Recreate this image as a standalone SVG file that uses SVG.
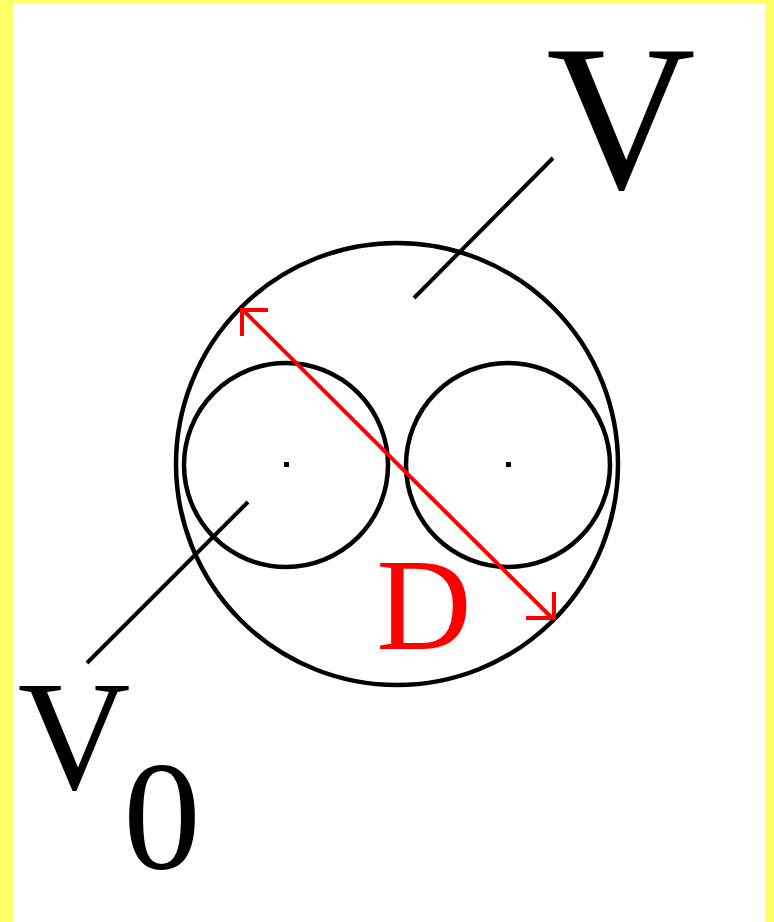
<svg xmlns="http://www.w3.org/2000/svg" width="774" height="922" viewBox="0 0 774 922">
  <defs>
    <style>
      .c { fill: none; stroke: #000; stroke-width: 4.5; }
      .ln { fill: none; stroke: #000; stroke-width: 4; }
      .dim { fill: none; stroke: #f00; stroke-width: 4; }
      .dot { fill: #000; }
      .lbl { font-family: "Liberation Serif", "Times New Roman", serif; fill: #000; text-anchor: middle; }
    </style>
  </defs>
  <rect x="0" y="0" width="774" height="922" fill="#ffff66"/>
  <rect x="13" y="3" width="752" height="919" fill="#fff"/>

  <g id="outer-circle">
    <circle class="c" cx="397" cy="464" r="221"/>
  </g>
  <g id="left-circle">
    <circle class="c" cx="286" cy="465" r="102"/>
    <rect class="dot" x="284" y="462" width="5" height="5"/>
  </g>
  <g id="right-circle">
    <circle class="c" cx="508" cy="465" r="102"/>
    <rect class="dot" x="506" y="462" width="5" height="5"/>
  </g>

  <g id="connectors">
    <line class="ln" x1="414" y1="298" x2="553" y2="158"/>
    <line class="ln" x1="248" y1="502" x2="87" y2="663"/>
    <g id="dimension-D">
      <line class="dim" x1="242" y1="309" x2="553" y2="619"/>
      <polyline class="dim" points="268,310 242,310 242,336"/>
      <polyline class="dim" points="526,618 554,618 554,592"/>
    </g>
  </g>

  <g id="label-V">
    <text class="lbl" x="621" y="188" font-size="207">V</text>
  </g>
  <g id="label-V0">
    <text class="lbl" x="74" y="789" font-size="156">V</text>
    <text class="lbl" x="162" y="868" font-size="155">0</text>
  </g>
  <g id="label-D">
    <text class="lbl" x="424" y="649" font-size="132" fill="#f00" style="fill:#f00">D</text>
  </g>
</svg>
